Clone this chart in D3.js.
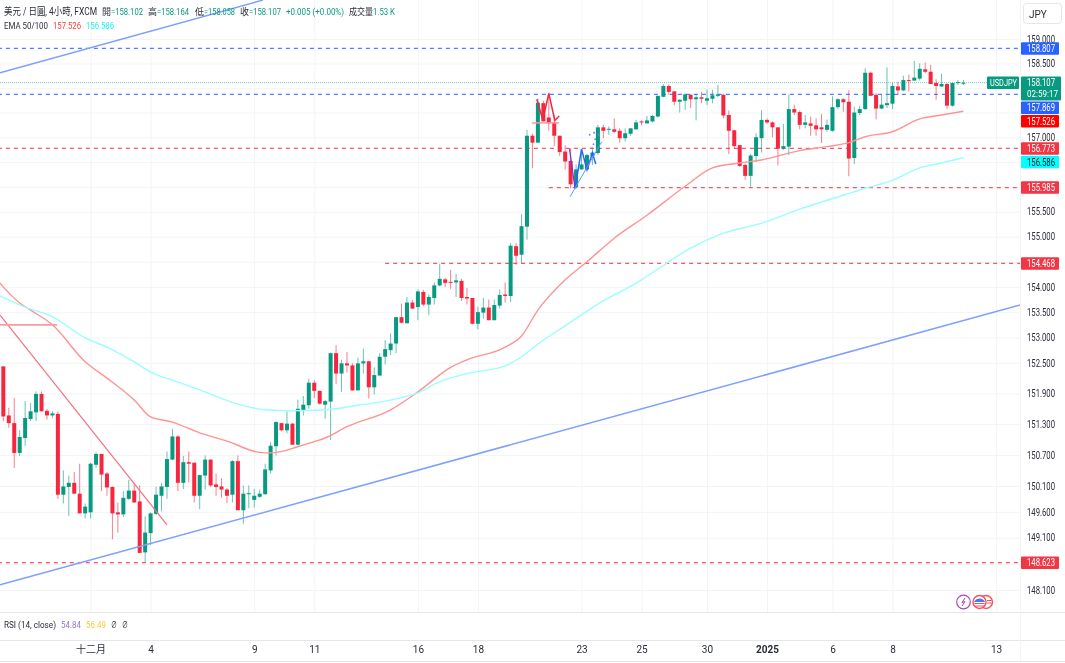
<!DOCTYPE html>
<html>
<head>
<meta charset="utf-8">
<script src="https://cdn.jsdelivr.net/npm/d3@7"></script>
<style>
    html, body { margin: 0; padding: 0; background: #fff; }
    svg { display: block; filter: blur(0.45px); }
    text { font-family: Roboto, "Noto Sans CJK TC", sans-serif; }
</style>
</head>
<body>
<div id="chart"></div>
<script>
const opens = [
    152.43,151.47,151.32,150.74,151.03,151.40,151.53,151.89,151.56,151.47,
    151.50,149.93,150.08,150.16,149.95,149.57,149.59,150.51,150.72,150.34,
    150.08,149.59,149.55,149.85,150.01,149.80,148.82,149.19,149.56,149.91,
    150.08,150.61,151.06,150.16,150.56,150.55,149.91,150.30,150.61,150.13,
    150.09,150.03,149.93,150.58,149.63,149.94,149.83,149.89,149.94,150.40,
    150.87,151.32,151.18,151.31,150.90,151.57,151.67,152.11,151.95,151.68,
    151.74,152.69,152.29,152.49,152.45,151.96,152.49,152.53,152.02,152.25,
    152.62,152.75,152.88,153.40,153.28,153.69,153.60,153.90,153.65,153.78,
    154.03,154.15,154.10,154.09,154.12,153.80,153.78,153.27,153.49,153.59,
    153.34,153.63,153.85,153.82,154.81,154.64,155.20,157.03,156.89,157.69,
    157.40,157.30,157.03,156.71,156.52,155.99,156.35,156.35,156.62,156.68,
    157.20,157.15,157.16,157.13,156.98,157.07,157.16,157.32,157.28,157.32,
    157.42,157.82,158.04,157.93,157.72,157.74,157.86,157.77,157.81,157.74,
    157.78,157.84,157.86,157.45,157.14,156.84,156.44,156.22,156.62,156.98,
    157.35,157.30,157.20,156.77,156.81,157.57,157.51,157.25,157.28,157.24,
    157.20,157.15,157.13,157.61,157.77,157.72,156.58,157.49,157.57,158.31,
    157.86,157.58,157.65,157.68,158.03,157.95,158.16,158.15,158.19,158.38,
    158.33,158.10,158.03,158.08,157.64,158.10,158.102
];
const highs = [
    152.44,151.62,151.81,151.18,151.75,151.71,151.94,151.94,151.60,151.55,
    151.55,150.40,150.30,150.37,150.53,149.76,150.55,150.75,150.72,150.37,
    150.09,149.78,150.00,150.22,150.16,150.11,149.51,149.59,150.08,150.16,
    150.77,151.21,151.08,150.68,150.77,150.55,150.32,150.69,150.61,150.34,
    150.25,150.06,150.60,150.69,150.11,150.11,150.04,150.03,150.53,150.95,
    151.36,151.32,151.55,151.32,151.78,151.85,152.19,152.16,151.95,151.77,
    152.70,152.85,152.56,152.71,152.49,152.60,152.78,152.54,152.41,152.69,
    152.95,153.08,153.41,153.67,153.80,153.74,153.95,153.94,153.85,154.09,
    154.46,154.18,154.34,154.26,154.16,153.98,153.78,153.61,153.78,153.75,
    153.75,153.95,154.09,154.87,154.87,155.45,157.15,157.07,157.79,157.74,
    157.90,157.45,157.03,156.84,156.78,156.45,156.74,156.66,156.78,157.25,
    157.25,157.22,157.38,157.18,157.18,157.18,157.35,157.34,157.43,157.45,
    157.84,158.08,158.07,157.94,157.77,157.89,157.88,157.86,157.92,157.97,
    157.96,158.06,157.88,157.54,157.15,156.84,156.46,156.66,157.08,157.55,
    157.38,157.32,157.20,157.27,157.86,157.66,157.54,157.45,157.42,157.38,
    157.47,157.36,157.83,157.79,157.79,157.95,157.62,157.64,158.40,158.33,
    157.89,157.86,158.42,158.11,158.13,158.25,158.27,158.55,158.50,158.52,
    158.47,158.18,158.29,158.10,158.11,158.16,158.164
];
const lows = [
    151.36,151.23,150.45,150.68,150.88,151.36,151.36,151.55,151.39,151.42,
    149.85,149.76,149.52,149.95,149.57,149.47,149.47,150.45,150.00,149.91,
    149.07,149.20,149.50,149.83,149.78,148.80,148.63,148.96,149.54,149.61,
    149.85,150.60,150.00,150.04,150.17,149.78,149.65,150.03,150.08,149.91,
    149.87,149.77,149.78,149.63,149.37,149.67,149.68,149.87,149.93,150.34,
    150.69,151.16,151.12,150.90,150.88,151.47,151.60,151.81,151.68,151.41,
    150.99,152.08,151.93,152.31,151.95,151.96,152.29,151.80,151.88,152.25,
    152.47,152.65,152.69,153.28,153.28,153.57,153.34,153.62,153.44,153.65,
    154.01,154.00,153.96,153.80,153.72,153.65,153.26,153.16,153.37,153.34,
    153.34,153.57,153.69,153.70,154.44,154.46,154.94,156.37,156.89,157.32,
    157.13,156.82,156.62,156.35,155.97,155.97,156.34,156.34,156.44,156.64,
    156.98,157.05,157.08,156.89,156.91,157.03,157.15,157.24,157.28,157.30,
    157.40,157.81,157.86,157.65,157.50,157.55,157.59,157.34,157.69,157.65,
    157.69,157.81,157.38,156.66,156.78,156.40,156.14,156.00,156.50,156.69,
    157.27,157.00,156.43,156.74,156.64,157.45,157.16,157.18,157.03,157.03,
    156.88,157.11,157.11,157.57,157.52,156.21,156.46,157.45,157.55,157.83,
    157.36,157.57,157.59,157.57,157.86,157.93,157.93,158.15,158.15,158.30,
    158.08,157.76,158.02,157.57,157.62,158.06,158.058
];
const closes = [
    151.45,151.32,150.74,151.05,151.42,151.55,151.89,151.55,151.47,151.51,
    149.93,150.09,150.16,149.95,149.57,149.70,150.53,150.72,150.32,150.07,
    149.57,149.55,149.87,150.01,149.78,148.81,149.20,149.57,149.93,150.09,
    150.62,151.06,150.16,150.56,150.53,149.91,150.31,150.61,150.11,150.08,
    150.03,149.91,150.58,149.63,149.95,149.96,149.91,149.95,150.42,150.88,
    151.34,151.18,151.31,150.90,151.60,151.68,152.11,151.95,151.70,151.75,
    152.69,152.29,152.49,152.45,151.96,152.49,152.53,152.02,152.26,152.62,
    152.77,152.88,153.40,153.29,153.69,153.57,153.91,153.65,153.80,154.03,
    154.16,154.08,154.08,154.13,153.78,153.77,153.27,153.50,153.59,153.34,
    153.64,153.84,153.82,154.82,154.62,155.21,157.03,156.89,157.70,157.32,
    157.28,157.03,156.70,156.51,156.05,156.35,156.45,156.64,156.69,157.20,
    157.13,157.17,157.11,156.98,157.08,157.18,157.30,157.30,157.34,157.43,
    157.84,158.04,157.92,157.72,157.76,157.87,157.77,157.81,157.78,157.79,
    157.85,157.87,157.44,157.13,156.82,156.42,156.22,156.63,157.00,157.35,
    157.30,157.20,156.77,156.82,157.57,157.50,157.25,157.30,157.23,157.16,
    157.16,157.25,157.61,157.77,157.71,156.57,157.50,157.57,158.31,157.84,
    157.58,157.66,157.69,158.04,157.95,158.16,158.14,158.21,158.39,158.33,
    158.08,158.04,158.08,157.64,158.10,158.12,158.107
];

// moving averages, read at these candle numbers
const ema50Idx = [-1,3,5,9,15,19,24,27,31,36,41,47,49,54,57,59,63,71,76,82,85,92,95,98,103,107,112,118,125,130,135,139,146,151,155,158,163,168,172,176];
const ema50 = [154.12,153.68,153.54,153.25,152.52,152.20,151.77,151.44,151.34,151.13,150.97,150.75,150.74,150.86,150.96,151.03,151.25,151.58,151.93,152.41,152.56,152.81,153.03,153.54,154.14,154.50,154.97,155.43,156.01,156.38,156.48,156.54,156.73,156.81,156.89,157.01,157.11,157.37,157.45,157.526];
const ema100Idx = [-1,4,9,15,19,24,27,31,36,43,48,53,59,65,71,76,80,85,92,95,98,103,109,117,121,126,132,139,146,154,158,163,168,172,176];
const ema100 = [153.84,153.60,153.41,152.99,152.81,152.52,152.32,152.16,151.97,151.69,151.58,151.56,151.58,151.67,151.77,151.91,152.13,152.29,152.44,152.62,152.87,153.23,153.66,154.14,154.43,154.77,155.07,155.27,155.55,155.83,155.97,156.13,156.38,156.48,156.586];

// price axis: grid lines at all of these, labels where no badge covers them
const gridPrices = [159,158.5,158,157.5,157,156.5,156,155.5,155,154.5,154,153.5,153,152.5,151.9,151.3,150.7,150.1,149.6,149.1,148.6,148.1];
const priceTicks = [159,158.5,157,155.5,155,154,153.5,153,152.5,151.9,151.3,150.7,150.1,149.6,149.1,148.1];

// time axis, tick position is the candle number
const timeIdx = [16,27,46,57,76,87,106,117,129,140,152,163,182];
const timeLabels = ['十二月','4','9','11','16','18','23','25','30','2025','6','8','13'];

// horizontal levels: [price, first candle number]
const blueLevels = [[158.807,-1],[157.869,-1]];
const redLevels = [[156.773,-1],[155.985,100],[154.468,70],[148.623,-1]];
const lastPrice = 158.107;

// badges on the price axis
const badgePrices = [158.807,158.107,157.869,157.526,156.773,156.586,155.985,154.468,148.623];
const badgeColors = ['#2962ff','#089981','#2962ff','#ff0000','#f23645','#00ffff','#f23645','#f23645','#f23645'];

// drawn trend lines and patterns: [candle number, price]
const trendBlueMain = [[-0.6,148.20],[186.4,153.64]];
const trendBlueTop = [[-0.6,158.31],[47.6,159.80]];
const trendRed = [[-0.6,153.44],[30,149.35]];
const flatRed = [[-0.6,153.25],[9.84,153.25]];
const zigzagRed = [[97.8,157.77],[98.9,157.35],[100,157.89],[101.1,157.34],[101.9,157.43]];
const flatRed2 = [[96.9,157.29],[101.9,157.29]];
const zigzagPurple = [[103.8,156.76],[104.8,155.97]];
const zigzagBlue = [[104.8,155.97],[106,156.76],[107,156.34],[108,156.68],[108.6,156.46]];
const riseBlue = [[103.9,155.80],[109.7,156.91]];
const dotsBlue = [[107.5,157.05],[108.3,157.09],[108.5,156.96],[108.2,156.86],[109.1,157.05],[107.9,156.78]];

draw();

function draw() {

    const width = 1065;
    const height = 663;
    const plotRight = 1020;
    const paneBottom = 612;
    const rsiBottom = 640;

    const green = '#089981';
    const red = '#f7263e';
    const gridColor = '#f3f4f6';
    const paneColor = '#e4e6ee';
    const textColor = '#2a2e39';

    const svg = d3.select('#chart')
        .append('svg')
            .attr('width', width)
            .attr('height', height)
            .attr('viewBox', [0, 0, width, height]);

    // scales
    const x = d3.scaleLinear()
        .domain([0, 182])
        .range([3.33, 996.1]);
    const y = d3.scaleLog()
        .domain([159, 148.1])
        .range([39, 590]);

    svg.append('clipPath')
            .attr('id', 'pane')
        .append('rect')
            .attr('width', plotRight)
            .attr('height', paneBottom);

    //
    // GRID
    //

    const gridX = g =>
        g
            .attr('transform', `translate(0,${paneBottom})`)
            .call(d3.axisBottom(x)
                .tickValues(timeIdx)
                .tickSize(-paneBottom)
                .tickFormat(''))
            .call(g => g.select('.domain').remove())
            .call(g => g.selectAll('.tick line').attr('stroke', gridColor));
    const gridY = g =>
        g
            .attr('transform', `translate(${plotRight},0)`)
            .call(d3.axisRight(y)
                .tickValues(gridPrices)
                .tickSize(-plotRight)
                .tickFormat(''))
            .call(g => g.select('.domain').remove())
            .call(g => g.selectAll('.tick line').attr('stroke', gridColor));

    svg.append('g').call(gridX);
    svg.append('g').call(gridY);

    // pane borders
    [paneBottom, rsiBottom, 661].forEach(p => {
        svg.append('line')
            .attr('x1', 0)
            .attr('x2', width)
            .attr('y1', p + 0.5)
            .attr('y2', p + 0.5)
            .attr('stroke', paneColor);
    });
    svg.append('line')
        .attr('x1', plotRight + 0.5)
        .attr('x2', plotRight + 0.5)
        .attr('y1', 0)
        .attr('y2', 661)
        .attr('stroke', gridColor);

    const plot = svg.append('g')
        .attr('clip-path', 'url(#pane)');

    //
    // LEVELS
    //

    const level = (d, color) => {
        plot.append('line')
            .attr('x1', x(d[1]))
            .attr('x2', plotRight)
            .attr('y1', y(d[0]))
            .attr('y2', y(d[0]))
            .attr('stroke', color)
            .attr('stroke-width', 1.3)
            .attr('stroke-dasharray', '4 4');
    };
    blueLevels.forEach(d => level(d, '#4d7dff'));
    redLevels.forEach(d => level(d, '#f4566a'));

    plot.append('line')
        .attr('x1', 0)
        .attr('x2', 987)
        .attr('y1', y(lastPrice))
        .attr('y2', y(lastPrice))
        .attr('stroke', green)
        .attr('stroke-opacity', 0.55)
        .attr('stroke-dasharray', '1 1');

    //
    // CANDLES
    //

    const candles = plot.append('g')
        .selectAll('g')
        .data(opens)
        .join('g')
            .attr('fill', (d, i) => closes[i] >= d ? green : red)
            .attr('stroke', (d, i) => closes[i] >= d ? green : red);

    candles.append('line')
        .attr('x1', (d, i) => x(i))
        .attr('x2', (d, i) => x(i))
        .attr('y1', (d, i) => y(highs[i]))
        .attr('y2', (d, i) => y(lows[i]))
        .attr('stroke-opacity', 0.6);

    candles.append('rect')
        .attr('x', (d, i) => x(i) - 2)
        .attr('width', 4)
        .attr('y', (d, i) => y(Math.max(d, closes[i])))
        .attr('height', (d, i) => Math.max(1, Math.abs(y(d) - y(closes[i]))))
        .attr('stroke', 'none');

    //
    // MOVING AVERAGES
    //

    const line = d3.line()
        .x(d => x(d[0]))
        .y(d => y(d[1]));
    const smooth = d3.line()
        .curve(d3.curveMonotoneX)
        .x(d => x(d[0]))
        .y(d => y(d[1]));

    plot.append('path')
        .datum(ema50.map((d, i) => [ema50Idx[i], d]))
        .attr('fill', 'none')
        .attr('stroke', '#ff9393')
        .attr('stroke-width', 1.4)
        .attr('d', smooth);
    plot.append('path')
        .datum(ema100.map((d, i) => [ema100Idx[i], d]))
        .attr('fill', 'none')
        .attr('stroke', '#9bfdfd')
        .attr('stroke-width', 1.4)
        .attr('d', smooth);

    //
    // DRAWINGS
    //

    const drawing = (d, color, w) => {
        plot.append('path')
            .datum(d)
            .attr('fill', 'none')
            .attr('stroke', color)
            .attr('stroke-width', w)
            .attr('d', line);
    };
    drawing(trendBlueMain, '#7d9fff', 1.5);
    drawing(trendBlueTop, '#7d9fff', 1.5);
    drawing(trendRed, '#f4707f', 1.2);
    drawing(flatRed, '#fb9aa4', 1.8);
    drawing(flatRed2, '#fb9aa4', 1.5);
    drawing(zigzagRed, '#f7263e', 1.5);
    drawing(zigzagPurple, '#7b2fd0', 1.2);
    drawing(zigzagBlue, '#2962ff', 1.5);
    drawing(riseBlue, '#6d92ff', 1);

    plot.append('g')
        .selectAll('circle')
        .data(dotsBlue)
        .join('circle')
            .attr('cx', d => x(d[0]))
            .attr('cy', d => y(d[1]))
            .attr('r', 0.9)
            .attr('fill', '#5c86ff');

    //
    // AXES
    //

    const axisY = g =>
        g
            .attr('transform', `translate(${plotRight},0)`)
            .call(d3.axisRight(y)
                .tickValues(priceTicks)
                .tickSize(0)
                .tickFormat(d3.format('.3f')))
            .call(g => g.select('.domain').remove())
            .call(g => g.selectAll('.tick text')
                .attr('x', 7)
                .attr('textLength', 28)
                .attr('lengthAdjust', 'spacingAndGlyphs')
                .style('font-size', '10px')
                .style('fill', textColor));
    const axisX = g =>
        g
            .attr('transform', `translate(0,${rsiBottom})`)
            .call(d3.axisBottom(x)
                .tickValues(timeIdx)
                .tickSize(0)
                .tickFormat((d, i) => timeLabels[i]))
            .call(g => g.select('.domain').remove())
            .call(g => g.selectAll('.tick text')
                .attr('y', 6)
                .style('font-size', '10px')
                .style('font-weight', d => d === 140 ? 700 : 400)
                .style('fill', textColor));

    svg.append('g').call(axisY);
    svg.append('g').call(axisX);

    //
    // BADGES (pushed down when they would overlap)
    //

    let lastBottom = -1;
    badgePrices.forEach((p, i) => {
        const isLast = p === lastPrice;
        const h = isLast ? 24 : 12.5;
        const top = Math.max(y(p) - 6.2, lastBottom + 1);
        lastBottom = top + h;
        svg.append('rect')
            .attr('x', plotRight + 1)
            .attr('y', top)
            .attr('width', isLast ? 40 : 38)
            .attr('height', h)
            .attr('rx', 1)
            .attr('fill', badgeColors[i]);
        svg.append('text')
            .attr('x', plotRight + 7)
            .attr('y', top + 10)
            .attr('textLength', 28)
            .attr('lengthAdjust', 'spacingAndGlyphs')
            .attr('fill', badgeColors[i] === '#00ffff' ? '#131722' : '#fff')
            .style('font-size', '10px')
            .text(d3.format('.3f')(p));
        if (isLast) {
            svg.append('text')
                .attr('x', plotRight + 7)
                .attr('y', top + 21)
                .attr('textLength', 31)
                .attr('lengthAdjust', 'spacingAndGlyphs')
                .attr('fill', '#fff')
                .style('font-size', '9.5px')
                .text('02:59:17');
            svg.append('rect')
                .attr('x', 987)
                .attr('y', top)
                .attr('width', 32)
                .attr('height', 12.5)
                .attr('rx', 1)
                .attr('fill', green);
            svg.append('text')
                .attr('x', 990)
                .attr('y', top + 10)
                .attr('textLength', 27)
                .attr('lengthAdjust', 'spacingAndGlyphs')
                .attr('fill', '#fff')
                .style('font-size', '9px')
                .text('USDJPY');
        }
    });

    // currency button
    svg.append('rect')
        .attr('x', 1023.5)
        .attr('y', 3.5)
        .attr('width', 38)
        .attr('height', 20)
        .attr('rx', 3)
        .attr('fill', '#fff')
        .attr('stroke', '#e4e6ee');
    svg.append('text')
        .attr('x', 1029)
        .attr('y', 17.5)
        .attr('fill', textColor)
        .style('font-size', '10px')
        .text('JPY');

    //
    // LEGEND TEXT
    //

    const label = (s, px, py, w, color, fs) => {
        svg.append('text')
            .attr('x', px)
            .attr('y', py)
            .attr('textLength', w)
            .attr('lengthAdjust', 'spacingAndGlyphs')
            .attr('fill', color)
            .style('font-size', (fs || 9) + 'px')
            .text(s);
    };

    label('美元 / 日圓, 4小時, FXCM', 4, 15, 93, textColor, 10);
    label('開', 102, 15, 9, textColor);
    label('=158.102', 111, 15, 32, green);
    label('高', 148, 15, 9, textColor);
    label('=158.164', 157, 15, 32, green);
    label('低', 195, 15, 9, textColor);
    label('=158.058', 204, 15, 31, green);
    label('收', 240, 15, 9, textColor);
    label('=158.107', 249, 15, 32, green);
    label('+0.005 (+0.00%)', 286, 15, 58, green);
    label('成交量', 349, 15, 24, textColor);
    label('1.53 K', 373, 15, 22, green);

    label('EMA 50/100', 4, 29, 44, textColor);
    label('157.526', 53, 29, 28, '#ff3b3b');
    label('156.586', 86, 29, 28, '#16f5f5');

    label('RSI (14, close)', 4, 628, 52, textColor);
    label('54.84', 61, 628, 20, '#9575cd');
    label('56.49', 86, 628, 20, '#ffc83d');
    label('∅', 111, 628, 6, textColor);
    label('∅', 122, 628, 6, textColor);

    //
    // EVENT ICONS
    //

    const flag = svg.append('g');
    flag.append('circle')
        .attr('cx', 986)
        .attr('cy', 602)
        .attr('r', 6.5)
        .attr('fill', '#fff')
        .attr('stroke', '#f6505f')
        .attr('stroke-width', 1.4);
    flag.append('circle')
        .attr('cx', 979.5)
        .attr('cy', 602)
        .attr('r', 6.5)
        .attr('fill', '#fff')
        .attr('stroke', '#f6505f')
        .attr('stroke-width', 1.4);
    flag.append('path')
        .attr('d', 'M974 602 A6 6 0 0 1 985 602 Z')
        .attr('fill', '#4a7be8');
    [603.5, 606].forEach(p => {
        flag.append('line')
            .attr('x1', 974.5)
            .attr('x2', 984.5)
            .attr('y1', p)
            .attr('y2', p)
            .attr('stroke', '#f6505f');
        flag.append('line')
            .attr('x1', 987)
            .attr('x2', 991.5)
            .attr('y1', p - 3)
            .attr('y2', p - 3)
            .attr('stroke', '#f6505f');
    });

    svg.append('circle')
        .attr('cx', 963.5)
        .attr('cy', 602)
        .attr('r', 6.8)
        .attr('fill', '#fff')
        .attr('stroke', '#ab47bc')
        .attr('stroke-width', 1.2);
    svg.append('path')
        .attr('d', 'M965 598 L962 602.5 L965 601.5 L962 606')
        .attr('fill', 'none')
        .attr('stroke', '#ab47bc');
}
</script>
</body>
</html>
